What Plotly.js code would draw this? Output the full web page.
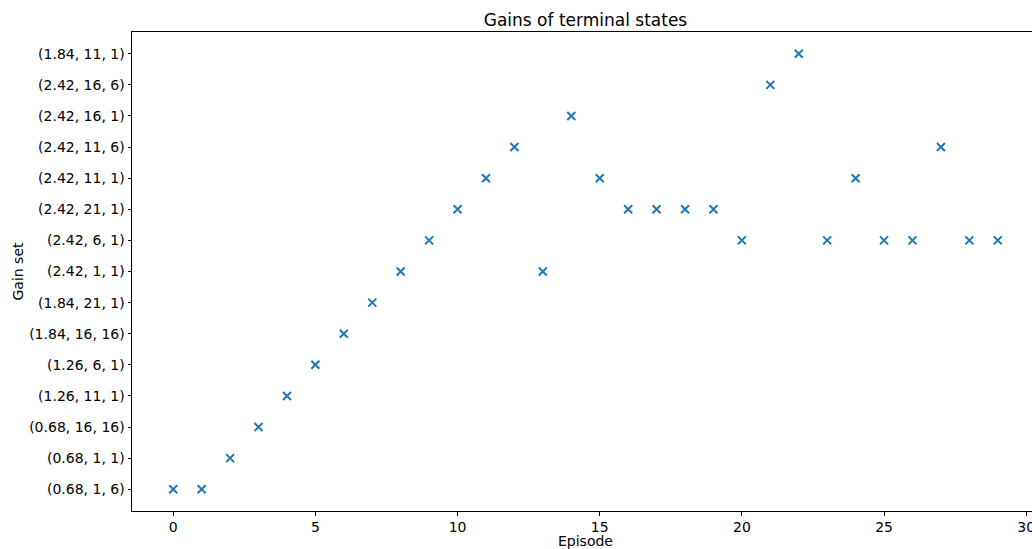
<!DOCTYPE html>
<html>
<head>
<meta charset="utf-8">
<script src="https://cdn.plot.ly/plotly-3.0.1.min.js"></script>
<style>
html,body{margin:0;padding:0;overflow:hidden;background:#fff;}
#chart{width:1040px;height:549px;}
</style>
</head>
<body>
<div id="chart"></div>
<script>
const categories = [
  "(0.68, 1, 6)", "(0.68, 1, 1)", "(0.68, 16, 16)", "(1.26, 11, 1)", "(1.26, 6, 1)",
  "(1.84, 16, 16)", "(1.84, 21, 1)", "(2.42, 1, 1)", "(2.42, 6, 1)", "(2.42, 21, 1)",
  "(2.42, 11, 1)", "(2.42, 11, 6)", "(2.42, 16, 1)", "(2.42, 16, 6)", "(1.84, 11, 1)"
];
const episodes = [0,1,2,3,4,5,6,7,8,9,10,11,12,13,14,15,16,17,18,19,20,21,22,23,24,25,26,27,28,29];
const gainSets = [
  "(0.68, 1, 6)", "(0.68, 1, 6)", "(0.68, 1, 1)", "(0.68, 16, 16)", "(1.26, 11, 1)",
  "(1.26, 6, 1)", "(1.84, 16, 16)", "(1.84, 21, 1)", "(2.42, 1, 1)", "(2.42, 6, 1)",
  "(2.42, 21, 1)", "(2.42, 11, 1)", "(2.42, 11, 6)", "(2.42, 1, 1)", "(2.42, 16, 1)",
  "(2.42, 11, 1)", "(2.42, 21, 1)", "(2.42, 21, 1)", "(2.42, 21, 1)", "(2.42, 21, 1)",
  "(2.42, 6, 1)", "(2.42, 16, 6)", "(1.84, 11, 1)", "(2.42, 6, 1)", "(2.42, 11, 1)",
  "(2.42, 6, 1)", "(2.42, 6, 1)", "(2.42, 11, 6)", "(2.42, 6, 1)", "(2.42, 6, 1)"
];
const xTicks = [0,5,10,15,20,25,30];

const font = "DejaVu Sans, sans-serif";
const trace = {
  x: episodes, y: gainSets, type: "scatter", mode: "markers",
  marker: {symbol: "x-thin-open", size: 8, color: "#1f77b4", line: {color: "#1f77b4", width: 2}},
  hoverinfo: "skip"
};
const axisCommon = {
  showline: true, linecolor: "#000", linewidth: 1, mirror: true,
  ticks: "outside", ticklen: 3.5, tickwidth: 1, tickcolor: "#000",
  showgrid: false, zeroline: false, automargin: false,
  tickfont: {family: font, size: 14, color: "#000"}
};
const layout = {
  width: 1040, height: 549,
  margin: {l: 132, r: 1, t: 32, b: 38},
  paper_bgcolor: "#fff", plot_bgcolor: "#fff",
  showlegend: false,
  title: {text: "Gains of terminal states", font: {family: font, size: 17, color: "#000"}, x: 0.5, xanchor: "center", xref: "paper", y: 1, yref: "paper", yanchor: "bottom", pad: {b: 6}},
  xaxis: Object.assign({}, axisCommon, {
    range: [-1.45, 30.45], tickvals: xTicks, ticktext: xTicks.map(String),
    title: {text: "Episode", font: {family: font, size: 14, color: "#000"}, standoff: 3}
  }),
  yaxis: Object.assign({}, axisCommon, {
    type: "category", categoryorder: "array", categoryarray: categories,
    range: [-0.7, 14.7],
    title: {text: "Gain set", font: {family: font, size: 14, color: "#000"}, standoff: 2}
  })
};
Plotly.newPlot("chart", [trace], layout, {staticPlot: true, displayModeBar: false});
</script>
</body>
</html>
